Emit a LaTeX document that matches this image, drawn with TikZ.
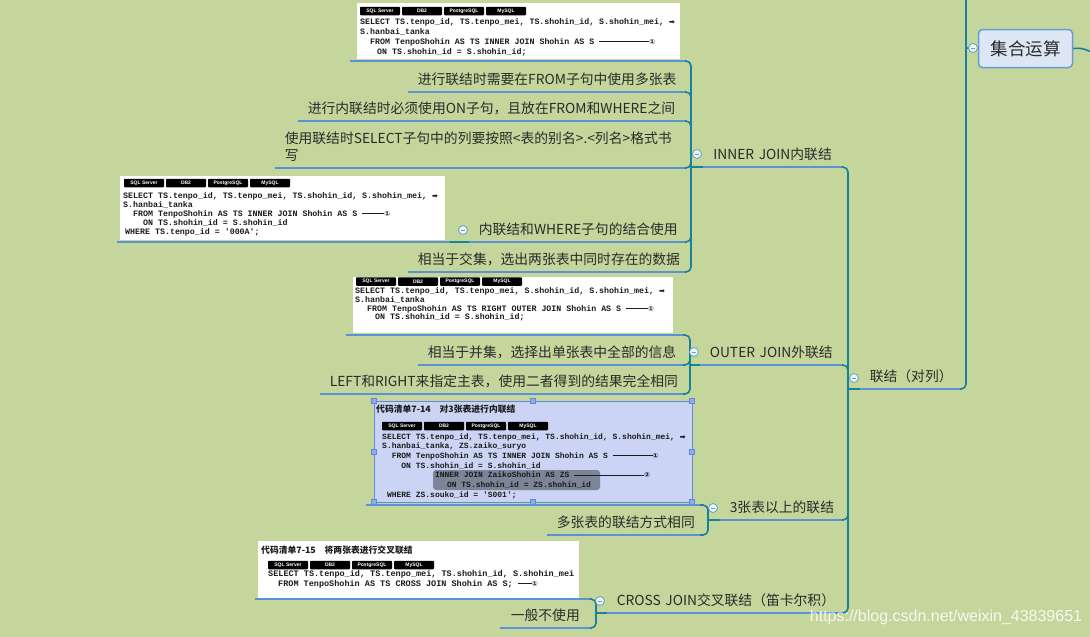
\documentclass[tikz,border=0pt]{standalone}
\usepackage{fontspec}
\setmainfont{Noto Sans CJK SC}
\newfontfamily\codefont{Liberation Mono}
\newfontfamily\badgefont{Liberation Sans}
\newfontfamily\symf{DejaVu Sans}
\newcommand\topicfont{\fontsize{13.8}{17}\selectfont}
\newcommand\dashnum[2]{\rule[2.4pt]{#1}{0.6pt}{\symf\fontsize{7}{7}\selectfont #2}}
\newcommand\goesto{{\symf\fontsize{7}{7}\selectfont ➡}}
\definecolor{bg}{HTML}{C5D69C}
\definecolor{ulblue}{HTML}{5A92D6}
\definecolor{linkteal}{HTML}{18829A}
\definecolor{ink}{HTML}{2A2A2A}
\definecolor{codeink}{HTML}{1C1C1C}
\definecolor{foldedge}{HTML}{5FA5B8}
\definecolor{foldfill}{HTML}{EEF5F8}
\definecolor{hubfill}{HTML}{DCE6F5}
\definecolor{hubedge}{HTML}{6C9AD6}
\definecolor{selfill}{HTML}{CBD4F4}
\definecolor{seledge}{HTML}{5F88DE}
\definecolor{hlgray}{HTML}{7C8498}
\begin{document}
\begin{tikzpicture}[x=1pt,y=-1pt,
  topic/.style={font=\topicfont, text=ink, inner xsep=10pt, inner ysep=0pt,
    text height=11pt, text depth=7pt, align=right, anchor=south east},
  uline/.style={draw=ulblue, line width=2pt},
  branch/.style={draw=linkteal, line width=1.6pt, rounded corners=5pt},
  fold/.style={circle, draw=foldedge, fill=foldfill, line width=.8pt,
    minimum size=9pt, inner sep=0pt,
    path picture={\draw[foldedge, line width=.8pt]
      ([xshift=-2.2pt]path picture bounding box.center) --
      ([xshift=2.2pt]path picture bounding box.center);}},
  hub/.style={draw=hubedge, line width=1.5pt, fill=hubfill, rounded corners=4pt,
    minimum width=94pt, minimum height=38pt, text=ink,
    font=\fontsize{17.5}{20}\selectfont},
  shot/.style={fill=white, anchor=north west, inner sep=0pt},
  code/.style={text=codeink, inner sep=0pt, align=left, anchor=north west},
  badge/.style={fill=black, rounded corners=.8pt, text=white,
    font=\badgefont\bfseries\fontsize{5}{6}\selectfont,
    minimum width=40pt, minimum height=8.5pt, inner sep=0pt},
  shottitle/.style={anchor=west, inner sep=0pt, text=codeink,
    font=\bfseries\fontsize{8.8}{10}\selectfont}]
\fill[bg] (0,0) rectangle (1090,637);
\useasboundingbox (0,0) rectangle (1090,637);

% code pictures
\node[shot, minimum width=323pt, minimum height=56pt] (shotA) at (357,3) {};
\foreach \b [count=\i from 0] in {SQL Server,DB2,PostgreSQL,MySQL}
  \node[badge] (badgeA\i) at (380+\i*42,11) {\b};
\node[code, font=\codefont\bfseries\fontsize{8.3}{10}\selectfont] (codeA) at (360,18)
  {SELECT TS.tenpo\_id, TS.tenpo\_mei, TS.shohin\_id, S.shohin\_mei, \goesto\\
   S.hanbai\_tanka\\
   \hspace*{10pt}FROM TenpoShohin AS TS INNER JOIN Shohin AS S \dashnum{50pt}{①}\\
   \hspace*{17pt}ON TS.shohin\_id = S.shohin\_id;};

\node[shot, minimum width=325pt, minimum height=64pt] (shotB) at (120,176) {};
\foreach \b [count=\i from 0] in {SQL Server,DB2,PostgreSQL,MySQL}
  \node[badge] (badgeB\i) at (144+\i*42,183) {\b};
\node[code, font=\codefont\bfseries\fontsize{8.3}{9.1}\selectfont] (codeB) at (123,192)
  {SELECT TS.tenpo\_id, TS.tenpo\_mei, TS.shohin\_id, S.shohin\_mei, \goesto\\
   S.hanbai\_tanka\\
   \hspace*{10pt}FROM TenpoShohin AS TS INNER JOIN Shohin AS S \dashnum{22pt}{①}\\
   \hspace*{20pt}ON TS.shohin\_id = S.shohin\_id\\
   \hspace*{2pt}WHERE TS.tenpo\_id = \textquotesingle 000A\textquotesingle;};

\node[shot, minimum width=320pt, minimum height=56pt] (shotC) at (353,277) {};
\foreach \b [count=\i from 0] in {SQL Server,DB2,PostgreSQL,MySQL}
  \node[badge] (badgeC\i) at (376+\i*42,281.5) {\b};
\node[code, font=\codefont\bfseries\fontsize{8.3}{8.9}\selectfont] (codeC) at (355,287)
  {SELECT TS.tenpo\_id, TS.tenpo\_mei, S.shohin\_id, S.shohin\_mei, \goesto\\
   S.hanbai\_tanka\\
   \hspace*{12pt}FROM TenpoShohin AS TS RIGHT OUTER JOIN Shohin AS S \dashnum{22pt}{①}\\
   \hspace*{20pt}ON TS.shohin\_id = S.shohin\_id;};

\node[shot, fill=selfill, draw=seledge, line width=.8pt, minimum width=318pt,
  minimum height=101pt] (shotD) at (374,401) {};
\node[shottitle] (titleD) at (376,409) {代码清单7-14\quad 对3张表进行内联结};
\foreach \b [count=\i from 0] in {SQL Server,DB2,PostgreSQL,MySQL}
  \node[badge] (badgeD\i) at (402+\i*42,426) {\b};
\fill[hlgray, rounded corners=3pt] (433,470) rectangle (600,490);
\node[code, font=\codefont\bfseries\fontsize{8}{9.7}\selectfont] (codeD) at (382,433)
  {SELECT TS.tenpo\_id, TS.tenpo\_mei, TS.shohin\_id, S.shohin\_mei, \goesto\\
   S.hanbai\_tanka, ZS.zaiko\_suryo\\
   \hspace*{9.6pt}FROM TenpoShohin AS TS INNER JOIN Shohin AS S \dashnum{40pt}{①}\\
   \hspace*{19.2pt}ON TS.shohin\_id = S.shohin\_id\\
   \hspace*{52.8pt}INNER JOIN ZaikoShohin AS ZS \dashnum{70pt}{②}\\
   \hspace*{64.8pt}ON TS.shohin\_id = ZS.shohin\_id\\
   \hspace*{4.8pt}WHERE ZS.souko\_id = \textquotesingle S001\textquotesingle;};
\foreach \p in {(374,401),(533,401),(692,401),(374,452),(692,452),(374,502),(533,502),(692,502)}
  \filldraw[fill=seledge!70!white, draw=seledge, line width=.5pt] \p +(-2.5,-2.5) rectangle +(2.5,2.5);

\node[shot, minimum width=321pt, minimum height=57pt] (shotE) at (258,541) {};
\node[shottitle] (titleE) at (261,550) {代码清单7-15\quad 将两张表进行交叉联结};
\foreach \b [count=\i from 0] in {SQL Server,DB2,PostgreSQL,MySQL}
  \node[badge] (badgeE\i) at (288+\i*42,565) {\b};
\node[code, font=\codefont\bfseries\fontsize{8.5}{10}\selectfont] (codeE) at (268,570)
  {SELECT TS.tenpo\_id, TS.tenpo\_mei, TS.shohin\_id, S.shohin\_mei\\
   \hspace*{10pt}FROM TenpoShohin AS TS CROSS JOIN Shohin AS S; \dashnum{14pt}{①}};

% topics
\node[hub] (jh) at (1025.5,48.5) {集合运算};
\node[topic, text width=80pt] (lj) at (960,389) {联结（对列）};
\node[topic, text width=119pt] (inner) at (842,167) {INNER~JOIN内联结};
\node[topic, text width=122pt] (outer) at (842,365) {OUTER~JOIN外联结};
\node[topic, text width=102pt] (three) at (842,520) {3张表以上的联结};
\node[topic, text width=215pt] (cross) at (842,613) {CROSS~JOIN交叉联结（笛卡尔积）};

\node[topic, text width=315pt] (in-a) at (685,61) {};
\node[topic, text width=257pt] (in-b) at (685,92) {进行联结时需要在FROM子句中使用多张表};
\node[topic, text width=367pt] (in-c) at (685,121) {进行内联结时必须使用ON子句，且放在FROM和WHERE之间};
\node[topic, text width=390pt, align=left, text depth=24pt] (in-d) at (685,168)
  {使用联结时SELECT子句中的列要按照<表的别名>.<列名>格式书\\写};
\node[topic, text width=196pt] (in-e) at (685,242) {内联结和WHERE子句的结合使用};
\node[topic, text width=313pt] (in-e1) at (450,242) {};
\node[topic, text width=257pt] (in-f) at (685,272) {相当于交集，选出两张表中同时存在的数据};

\node[topic, text width=317pt] (out-a) at (683,335) {};
\node[topic, text width=245pt] (out-b) at (683,365) {相当于并集，选择出单张表中全部的信息};
\node[topic, text width=343pt] (out-c) at (683,394) {LEFT和RIGHT来指定主表，使用二者得到的结果完全相同};

\node[topic, text width=314pt] (th-a) at (700,505) {};
\node[topic, text width=133pt] (th-b) at (700,535) {多张表的联结方式相同};

\node[topic, text width=315pt] (cr-a) at (590,599) {};
\node[topic, text width=70pt] (cr-b) at (590,628) {一般不使用};

\foreach \t in {lj,inner,outer,three,cross,in-a,in-b,in-c,in-d,in-e,in-e1,in-f,
    out-a,out-b,out-c,th-a,th-b,cr-a,cr-b}
  \draw[uline] (\t.south west) -- (\t.south east);

% connectors
\coordinate (j0) at (966,48);
\coordinate (up) at (966,-4);
\coordinate (toroot) at (1094,53);
\coordinate (j1) at (848,389);
\coordinate (j2) at (691,167);
\coordinate (j3) at (690,365);
\coordinate (j4) at (708,520);
\coordinate (j5) at (596,613);
\coordinate (j6) at (450,242);

\draw[branch] (jh.east) .. controls (1082,48) .. (toroot);
\draw[branch] (up) -- (j0) |- (lj.south east);
\draw[branch] (j0) -- (jh.west);
\draw[branch] (j1) -- (lj.south west);
\foreach \c in {inner,outer,three,cross}
  \draw[branch] (j1) |- (\c.south east);
\draw[branch] (j2) -- (inner.south west);
\foreach \c in {in-a,in-b,in-c,in-d,in-e,in-f}
  \draw[branch] (j2) |- (\c.south east);
\draw[branch] (j6) -- (in-e.south west);
\draw[branch] (j3) -- (outer.south west);
\foreach \c in {out-a,out-b,out-c}
  \draw[branch] (j3) |- (\c.south east);
\draw[branch] (j4) -- (three.south west);
\foreach \c in {th-a,th-b}
  \draw[branch] (j4) |- (\c.south east);
\draw[branch] (j5) -- (cross.south west);
\foreach \c in {cr-a,cr-b}
  \draw[branch] (j5) |- (\c.south east);

\node[fold] (f0) at (973,48) {};
\node[fold] (f1) at (854,378) {};
\node[fold] (f2) at (697,154) {};
\node[fold] (f3) at (694,352) {};
\node[fold] (f4) at (713,508) {};
\node[fold] (f5) at (600,601) {};
\node[fold] (f6) at (463,230) {};

\node[text=white, opacity=.85, font=\badgefont\fontsize{16}{18}\selectfont]
  (wm) at (946,617) {https://blog.csdn.net/weixin\_43839651};
\end{tikzpicture}
\end{document}
